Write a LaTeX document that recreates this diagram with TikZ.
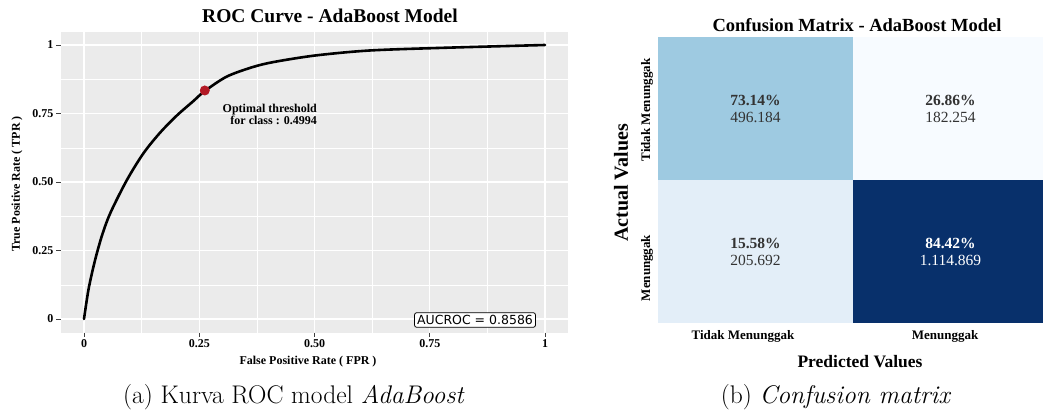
\documentclass[tikz,border=0pt]{standalone}
\usepackage{fontspec}
\newfontfamily\plotfont{Liberation Serif}
\newfontfamily\boxfont{DejaVu Sans}
\usetikzlibrary{positioning}
\definecolor{panelgray}{RGB}{235,235,235}
\definecolor{cellhigh}{RGB}{158,202,225}
\definecolor{celllow}{RGB}{247,251,255}
\definecolor{cellmid}{RGB}{227,238,248}
\definecolor{celldark}{RGB}{8,48,107}
\definecolor{optred}{RGB}{178,24,36}
\definecolor{celltext}{RGB}{51,51,51}

\begin{document}
\begin{tikzpicture}[x=1pt,y=-1pt,
	plottitle/.style={font=\plotfont\bfseries\fontsize{19.5}{19.5}\selectfont},
	ticklabel/.style={font=\plotfont\bfseries\fontsize{12}{12}\selectfont},
	axislabel/.style={font=\plotfont\bfseries\fontsize{12}{12}\selectfont},
	cell/.style={minimum width=195pt,minimum height=143pt,inner sep=0pt,outer sep=0pt,
		align=center,text=celltext,font=\plotfont\fontsize{15.5}{17}\selectfont},
	caption/.style={font=\fontsize{25.5}{25.5}\selectfont}]

\useasboundingbox (0,0) rectangle (1043,415);

\fill [panelgray] (61,32) rectangle (568,333);
\begin{scope}[shift={(84,319)},x=461pt,y=274pt]
\draw [white,line width=0.5pt] foreach \v in {0.125,0.375,0.625,0.875}
	{(\v,-0.05) -- (\v,1.05) (-0.05,\v) -- (1.05,\v)};
\draw [white,line width=1.1pt] foreach \v in {0,0.25,0.5,0.75,1}
	{(\v,-0.05) -- (\v,1.05) (-0.05,\v) -- (1.05,\v)};
\draw [black!75,line width=0.8pt] foreach \v in {0,0.25,0.5,0.75,1}
	{(\v,-0.05) -- ++(0,-4pt) (-0.05,\v) -- ++(-5pt,0)};
\foreach \v/\t [count=\i] in {0/0,0.25/0.25,0.5/0.50,0.75/0.75,1/1} {
	\node [ticklabel,below] (xt\i) at (\v,-0.05) [yshift=-3pt] {\t};
	\node [ticklabel,left] (yt\i) at (-0.05,\v) [xshift=-4pt] {\t};
}
\draw [line width=2.6pt,line cap=round] plot [smooth] coordinates {(0,0) (0.01,0.11) (0.024,0.215)
	(0.04,0.31) (0.058,0.39) (0.093,0.507) (0.129,0.605) (0.165,0.68) (0.201,0.742) (0.237,0.795)
	(0.262,0.832) (0.31,0.885) (0.367,0.92) (0.415,0.939) (0.503,0.962) (0.62,0.98) (0.785,0.99) (1,1)};
\node [circle,fill=optred,minimum size=10pt,inner sep=0pt] (opt) at (0.262,0.834) {};
\end{scope}

\node [axislabel,align=right,anchor=north east,inner sep=0pt] (optlbl) at (317,104)
	{Optimal threshold\\for class : 0.4994};
\node [draw,rounded corners=2pt,fill=white,line width=0.8pt,inner sep=2.5pt,
	font=\boxfont\fontsize{12.5}{12.5}\selectfont] (auc) at (475,320) {AUCROC = 0.8586};
\node [plottitle] (roctitle) at (330,16) {ROC Curve - AdaBoost Model};
\node [axislabel,rotate=90] (tpr) at (17,184) {True Positive Rate ( TPR )};
\node [axislabel] (fpr) at (308,362) {False Positive Rate ( FPR )};

\node [cell,fill=cellhigh] (tl) at (755.5,108.5) {\textbf{73.14\%}\\496.184};
\node [cell,fill=celllow] (tr) [right=0pt of tl] {\textbf{26.86\%}\\182.254};
\node [cell,fill=cellmid] (bl) [below=0pt of tl] {\textbf{15.58\%}\\205.692};
\node [cell,fill=celldark,text=white] (br) [right=0pt of bl] {\textbf{84.42\%}\\1.114.869};

\node [plottitle,font=\plotfont\bfseries\fontsize{18.5}{18.5}\selectfont] (cmtitle) at (857,25)
	{Confusion Matrix - AdaBoost Model};
\node [ticklabel,font=\plotfont\bfseries\fontsize{13}{13}\selectfont,rotate=90] (ytop) at (647,110)
	{Tidak Menunggak};
\node [ticklabel,font=\plotfont\bfseries\fontsize{13}{13}\selectfont,rotate=90] (ybot) at (647,268)
	{Menunggak};
\node [ticklabel,font=\plotfont\bfseries\fontsize{13}{13}\selectfont] (xleft) at (743,336)
	{Tidak Menunggak};
\node [ticklabel,font=\plotfont\bfseries\fontsize{13}{13}\selectfont] (xright) at (945,336)
	{Menunggak};
\node [plottitle,font=\plotfont\bfseries\fontsize{20}{20}\selectfont,rotate=90] (actual) at (621,183)
	{Actual Values};
\node [plottitle,font=\plotfont\bfseries\fontsize{17.5}{17.5}\selectfont] (predicted) at (860,362)
	{Predicted Values};

\node [caption] (capa) at (294,397) {(a) Kurva ROC model \textit{AdaBoost}};
\node [caption] (capb) at (836,397) {(b) \textit{Confusion matrix}};

\end{tikzpicture}
\end{document}
